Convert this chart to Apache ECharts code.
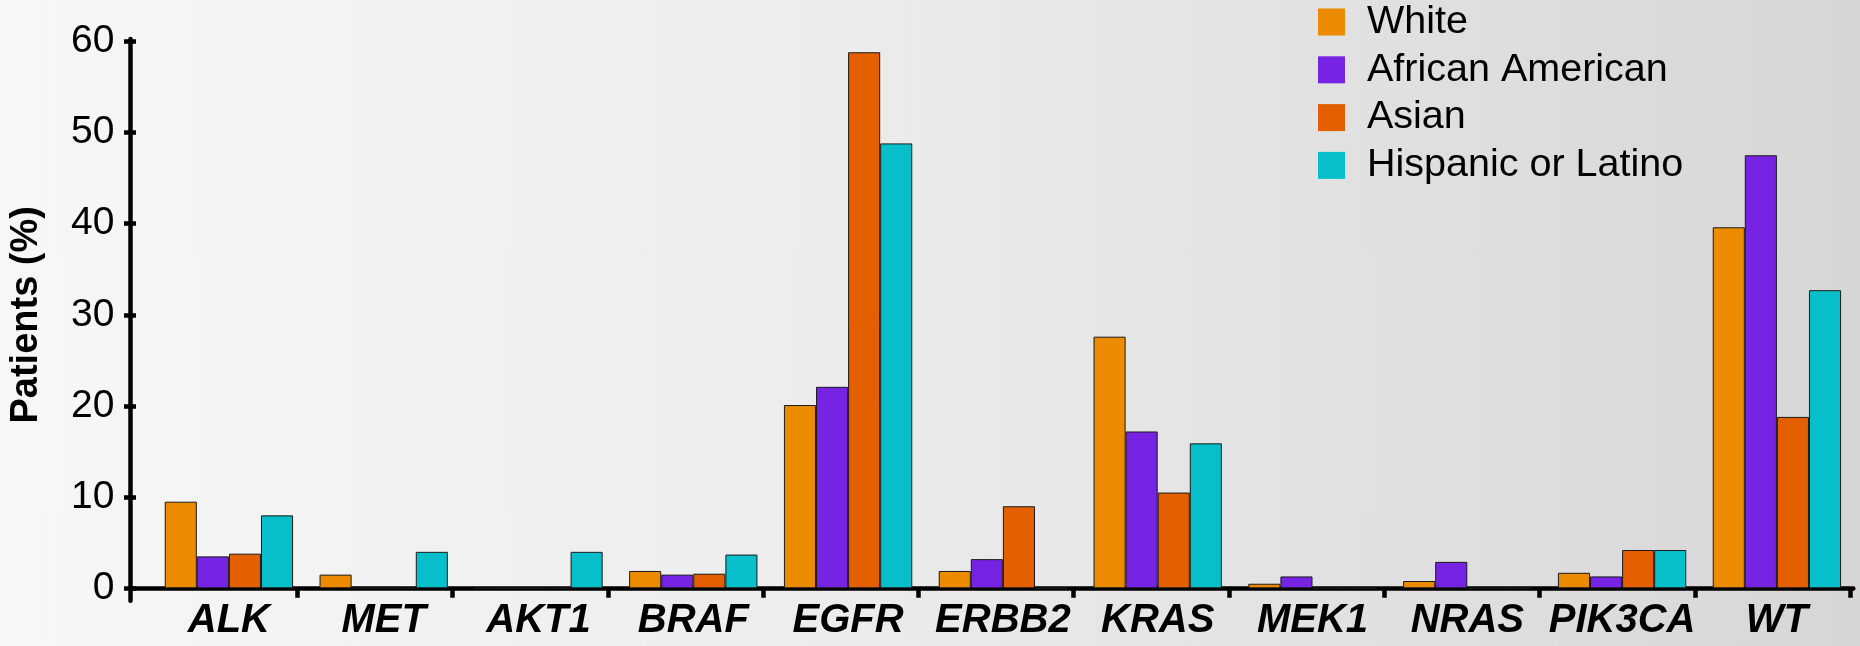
<!DOCTYPE html>
<html>
<head>
<meta charset="utf-8">
<script src="https://cdn.jsdelivr.net/npm/echarts@6/dist/echarts.min.js"></script>
<style>
  html, body { margin: 0; padding: 0; }
  #chart { width: 1860px; height: 646px; background: linear-gradient(to right, #f7f7f7 0%, #ececec 45%, #d6d6d6 100%); }
</style>
</head>
<body>
<div id="chart"></div>
<script>
// ---- data ----
const categories = ['ALK', 'MET', 'AKT1', 'BRAF', 'EGFR', 'ERBB2', 'KRAS', 'MEK1', 'NRAS', 'PIK3CA', 'WT'];
const seriesNames = ['White', 'African American', 'Asian', 'Hispanic or Latino'];
const white    = [9.5, 1.5, 0, 1.9, 20.1, 1.9, 27.6, 0.5, 0.8, 1.7, 39.6];
const african  = [3.5, 0,   0, 1.5, 22.1, 3.2, 17.2, 1.3, 2.9, 1.3, 47.5];
const asian    = [3.8, 0,   0, 1.6, 58.8, 9.0, 10.5, 0,   0,   4.2, 18.8];
const hispanic = [8.0, 4.0, 4.0, 3.7, 48.8, 0,  15.9, 0,   0,   4.2, 32.7];
const yTicks = { min: 0, max: 60, interval: 10 };
const colors = ['#ec8b00', '#7623e4', '#e35f00', '#06bfca'];

const chart = echarts.init(document.getElementById('chart'), null, { renderer: 'canvas' });
const FONT = 'Liberation Sans, Arial, sans-serif';
const LW = 4.5;

const option = {
  backgroundColor: 'transparent',
  animation: false,
  color: colors,
  legend: {
    orient: 'vertical',
    left: 1318,
    top: 2,
    padding: 0,
    itemWidth: 27,
    itemHeight: 27,
    itemGap: 7.8,
    icon: 'rect',
    itemStyle: { borderWidth: 0 },
    textStyle: { fontFamily: FONT, fontSize: 39.5, color: '#000', padding: [0, 0, 0, 17], lineHeight: 38 },
    data: seriesNames
  },
  grid: [
    { left: 146, right: 5.7, top: 41.3, bottom: 57.7 },
    { left: 141.9, right: 9.8, top: 41.3, bottom: 57.7 },
    { left: 130.5, right: 6.7, top: 39.1, bottom: 45.3 }
  ],
  xAxis: [
    {
      gridIndex: 0, type: 'category', data: categories,
      axisLine: { show: false }, axisTick: { show: false },
      axisLabel: { interval: 0, fontFamily: FONT, fontSize: 40, fontWeight: 'bold', fontStyle: 'italic', color: '#000', margin: 13 }
    },
    {
      gridIndex: 1, type: 'category', data: categories,
      axisLine: { show: false },
      axisTick: { show: true, length: 9.5, lineStyle: { color: '#000', width: LW }, interval: function (i) { return i > 0; } },
      axisLabel: { show: false }
    },
    {
      gridIndex: 2, type: 'value', min: 0, max: 1,
      axisLine: { show: true, onZero: true, lineStyle: { color: '#000', width: LW } },
      axisTick: { show: false }, axisLabel: { show: false }, splitLine: { show: false }
    }
  ],
  yAxis: [
    {
      gridIndex: 0, type: 'value', min: yTicks.min, max: yTicks.max, interval: yTicks.interval,
      offset: 15.5,
      name: 'Patients (%)', nameLocation: 'middle', nameGap: 90,
      nameTextStyle: { fontFamily: FONT, fontSize: 38, fontWeight: 'bold', color: '#000' },
      axisLine: { show: false },
      axisTick: { show: true, length: 12, lineStyle: { color: '#000', width: LW } },
      axisLabel: { fontFamily: FONT, fontSize: 39, color: '#000', margin: 21.5 },
      splitLine: { show: false }
    },
    { gridIndex: 1, type: 'value', min: 0, max: 60, show: false },
    {
      gridIndex: 2, type: 'value', min: -1.36, max: 60.24,
      axisLine: { show: true, onZero: false, lineStyle: { color: '#000', width: LW } },
      axisTick: { show: false }, axisLabel: { show: false }, splitLine: { show: false }
    }
  ],
  series: [white, african, asian, hispanic].map((d, i) => ({
    name: seriesNames[i],
    type: 'bar',
    xAxisIndex: 0, yAxisIndex: 0,
    data: d,
    barGap: '0%',
    barCategoryGap: '17.1%',
    itemStyle: { color: colors[i], borderColor: '#1a1a1a', borderWidth: 1 }
  }))
};
chart.setOption(option);
</script>
</body>
</html>
